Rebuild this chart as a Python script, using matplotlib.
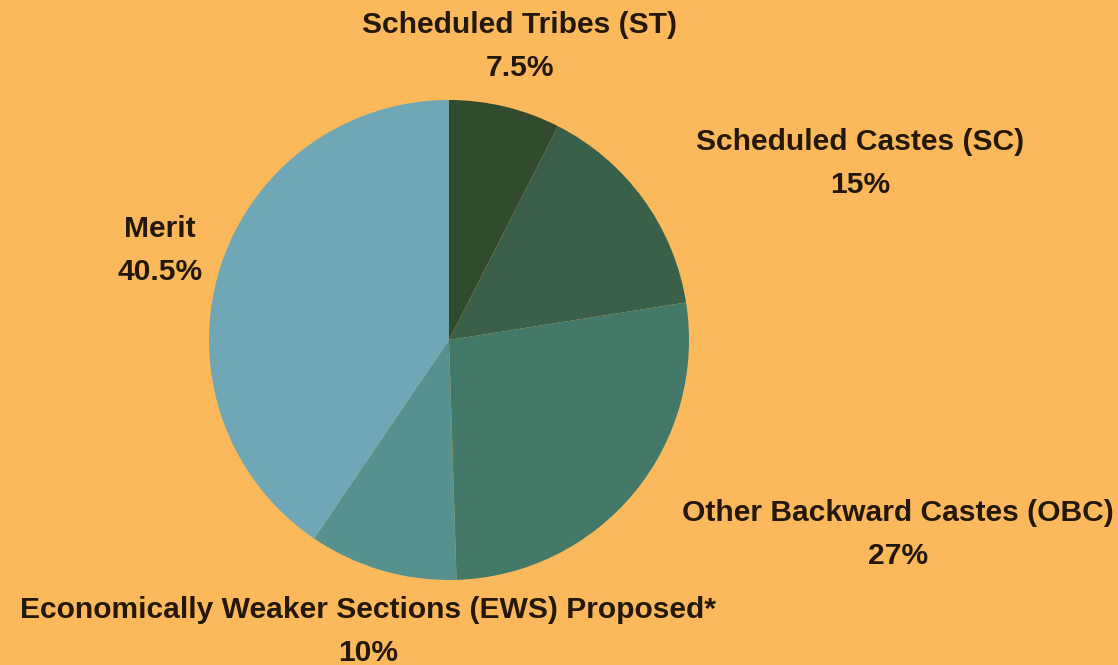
import matplotlib
matplotlib.use("Agg")
import matplotlib.pyplot as plt

# Reservation shares (percent), clockwise from 12 o'clock
categories = ["Scheduled Tribes (ST)", "Scheduled Castes (SC)",
              "Other Backward Castes (OBC)",
              "Economically Weaker Sections (EWS) Proposed*", "Merit"]
shares = [7.5, 15, 27, 10, 40.5]
share_labels = ["7.5%", "15%", "27%", "10%", "40.5%"]
colors = ["#324a2d", "#3b6049", "#447869", "#56918f", "#70a7b6"]

BG = "#fcb95b"
TXT = "#24180c"

W, H = 1118, 665
fig = plt.figure(figsize=(W / 100, H / 100), dpi=100, facecolor=BG)
ax = fig.add_axes([0, 0, 1, 1])
ax.set_facecolor(BG)

ax.pie(shares, colors=colors, startangle=90, counterclock=False,
       center=(449, H - 340), radius=240, frame=True,
       wedgeprops=dict(linewidth=0))
ax.set_xlim(0, W)
ax.set_ylim(0, H)
ax.set_aspect("equal")
ax.axis("off")

# label anchor points (pixel coords from top-left), one per category
label_pos = [(520, 25), (860, 142), (898, 513), (368, 610), (160, 229)]
for name, pct, (x, y) in zip(categories, share_labels, label_pos):
    ax.text(x, H - y, name, ha="center", va="center", fontsize=21.6,
            fontweight="bold", family="Liberation Sans", color=TXT)
    ax.text(x, H - y - 43, pct, ha="center", va="center", fontsize=21.6,
            fontweight="bold", family="Liberation Sans", color=TXT)

fig.savefig("out.png", dpi=100, facecolor=BG)
